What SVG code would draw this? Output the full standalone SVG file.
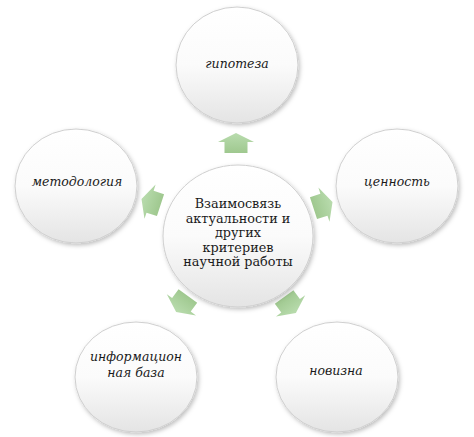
<svg xmlns="http://www.w3.org/2000/svg" width="474" height="437" viewBox="0 0 474 437">
<defs>
<linearGradient id="cg" x1="0" y1="0" x2="0" y2="1">
<stop offset="0" stop-color="#ffffff"/>
<stop offset="0.5" stop-color="#fbfbfb"/>
<stop offset="1" stop-color="#e4e4e4"/>
</linearGradient>
<linearGradient id="ag" x1="0" y1="0" x2="0" y2="1">
<stop offset="0" stop-color="#b9dcae"/>
<stop offset="1" stop-color="#9fc88f"/>
</linearGradient>
<filter id="sh" x="-20%" y="-20%" width="140%" height="140%">
<feDropShadow dx="1.5" dy="2" stdDeviation="2" flood-color="#000" flood-opacity="0.25"/>
</filter>
<path id="arr" d="M0,-10 L18,-1 L11.5,-1 L11.5,10 L-11.5,10 L-11.5,-1 L-18,-1 Z"/>
</defs>
<style>
.node ellipse{fill:url(#cg);stroke:#cfcfcf;stroke-width:1;filter:url(#sh)}
.conn use{fill:url(#ag)}
text{font-family:"DejaVu Serif",serif;fill:#1a1a1a;text-anchor:middle}
.lbl{font-style:italic;font-size:12.5px}
.ctr{font-size:12.8px}
</style>
<rect width="474" height="437" fill="#ffffff"/>
<g id="connectors" class="conn">
<use href="#arr" transform="translate(236,143)"/>
<use href="#arr" transform="translate(323,205) rotate(72)"/>
<use href="#arr" transform="translate(290,305) rotate(144)"/>
<use href="#arr" transform="translate(182,304) rotate(216)"/>
<use href="#arr" transform="translate(151,202) rotate(288)"/>
</g>
<g id="node-center" class="node">
<ellipse cx="238" cy="236" rx="75" ry="71"/>
<text class="ctr"><tspan x="238" y="208">Взаимосвязь</tspan><tspan x="238" y="222.5">актуальности и</tspan><tspan x="238" y="237">других</tspan><tspan x="238" y="251.5">критериев</tspan><tspan x="238" y="266">научной работы</tspan></text>
</g>
<g id="node-hypothesis" class="node">
<ellipse cx="237" cy="65" rx="61" ry="58"/>
<text class="lbl" x="237" y="68">гипотеза</text>
</g>
<g id="node-value" class="node">
<ellipse cx="397" cy="186" rx="61" ry="57"/>
<text class="lbl" x="397" y="186">ценность</text>
</g>
<g id="node-novelty" class="node">
<ellipse cx="337" cy="377" rx="61" ry="55"/>
<text class="lbl" x="336" y="375">новизна</text>
</g>
<g id="node-infobase" class="node">
<ellipse cx="136" cy="377" rx="61" ry="55"/>
<text class="lbl"><tspan x="136" y="361">информацион</tspan><tspan x="136" y="377">ная база</tspan></text>
</g>
<g id="node-methodology" class="node">
<ellipse cx="76" cy="186" rx="61" ry="57"/>
<text class="lbl" x="77" y="186">методология</text>
</g>
</svg>
